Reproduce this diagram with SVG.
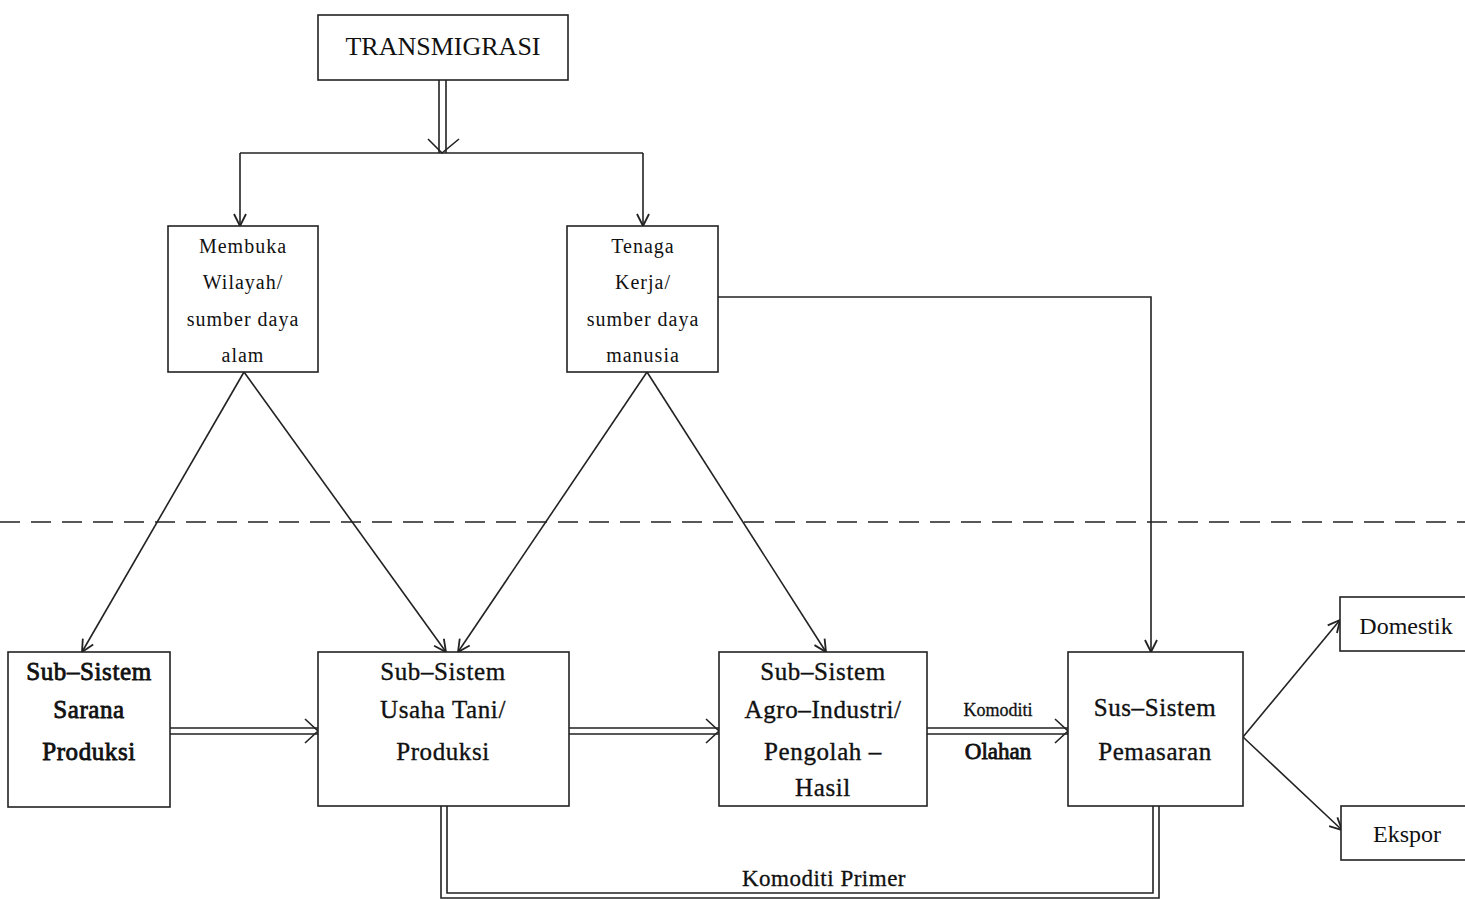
<svg xmlns="http://www.w3.org/2000/svg" width="1465" height="899" viewBox="0 0 1465 899">
<style>
.box{fill:#fff;stroke:#222;stroke-width:1.6}
.ln{fill:none;stroke:#222;stroke-width:1.6}
.t{font-family:"Liberation Serif","Times New Roman",serif;fill:#111;text-anchor:middle}
.s20{font-size:20px;letter-spacing:1px}
.s25{font-size:25px;letter-spacing:0.6px;stroke:#111;stroke-width:0.35}
.hv{stroke:#111;stroke-width:0.8}
</style>
<defs>
<marker id="ah" viewBox="0 0 14 14" refX="13" refY="7" markerWidth="14" markerHeight="14" markerUnits="userSpaceOnUse" orient="auto">
<path d="M1,1 L13,7 L1,13" fill="none" stroke="#222" stroke-width="1.8"/>
</marker>
</defs>
<rect width="1465" height="899" fill="#fff"/>

<g id="connectors">
<path class="ln" d="M439,80 V153 M446,80 V153"/>
<path class="ln" d="M428,139 L442,153 L459,139"/>
<path class="ln" d="M240,153 H643"/>
<path class="ln" d="M240,153 V226" marker-end="url(#ah)"/>
<path class="ln" d="M643,153 V226" marker-end="url(#ah)"/>
<path class="ln" d="M718,297 H1151 V652" marker-end="url(#ah)"/>
<path class="ln" d="M244,372 L82,652" marker-end="url(#ah)"/>
<path class="ln" d="M244,372 L446,652" marker-end="url(#ah)"/>
<path class="ln" d="M647,372 L458,652" marker-end="url(#ah)"/>
<path class="ln" d="M647,372 L826,652" marker-end="url(#ah)"/>
<path class="ln" d="M0,522 H1465" stroke-dasharray="20,11"/>
<path class="ln" d="M170,728 H318 M170,734 H318"/>
<path class="ln" d="M305,719 L318,731 L305,743"/>
<path class="ln" d="M569,728 H719 M569,734 H719"/>
<path class="ln" d="M706,719 L719,731 L706,743"/>
<path class="ln" d="M927,728 H1068 M927,734 H1068"/>
<path class="ln" d="M1055,719 L1068,731 L1055,743"/>
<path class="ln" d="M1243,737 L1340,620" marker-end="url(#ah)"/>
<path class="ln" d="M1243,737 L1342,830" marker-end="url(#ah)"/>
<path class="ln" d="M447,806 V893 H1153 V806"/>
<path class="ln" d="M441,806 V898 H1159 V806"/>
</g>

<g id="transmigrasi">
<rect class="box" x="318" y="15" width="250" height="65"/>
<text class="t" x="443" y="55" font-size="26">TRANSMIGRASI</text>
</g>

<g id="membuka">
<rect class="box" x="168" y="226" width="150" height="146"/>
<text class="t s20" x="243" y="253">Membuka</text>
<text class="t s20" x="243" y="289">Wilayah/</text>
<text class="t s20" x="243" y="326">sumber daya</text>
<text class="t s20" x="243" y="362">alam</text>
</g>

<g id="tenaga">
<rect class="box" x="567" y="226" width="151" height="146"/>
<text class="t s20" x="643" y="253">Tenaga</text>
<text class="t s20" x="643" y="289">Kerja/</text>
<text class="t s20" x="643" y="326">sumber daya</text>
<text class="t s20" x="643" y="362">manusia</text>
</g>

<g id="sarana">
<rect class="box" x="8" y="652" width="162" height="155"/>
<text class="t s25 hv" x="89" y="680">Sub–Sistem</text>
<text class="t s25 hv" x="89" y="718">Sarana</text>
<text class="t s25 hv" x="89" y="760">Produksi</text>
</g>

<g id="usahatani">
<rect class="box" x="318" y="652" width="251" height="154"/>
<text class="t s25" x="443" y="680">Sub–Sistem</text>
<text class="t s25" x="443" y="718">Usaha Tani/</text>
<text class="t s25" x="443" y="760">Produksi</text>
</g>

<g id="agroindustri">
<rect class="box" x="719" y="652" width="208" height="154"/>
<text class="t s25" x="823" y="680">Sub–Sistem</text>
<text class="t s25" x="823" y="718">Agro–Industri/</text>
<text class="t s25" x="823" y="760">Pengolah –</text>
<text class="t s25" x="823" y="796">Hasil</text>
</g>

<g id="pemasaran">
<rect class="box" x="1068" y="652" width="175" height="154"/>
<text class="t s25" x="1155" y="716">Sus–Sistem</text>
<text class="t s25" x="1155" y="760">Pemasaran</text>
</g>

<g id="domestik">
<rect class="box" x="1340" y="597" width="135" height="54"/>
<text class="t" x="1406" y="634" font-size="24">Domestik</text>
</g>

<g id="ekspor">
<rect class="box" x="1341" y="806" width="130" height="54"/>
<text class="t" x="1407" y="842" font-size="24">Ekspor</text>
</g>

<g id="labels">
<text class="t" x="998" y="716" font-size="18" stroke="#111" stroke-width="0.3">Komoditi</text>
<text class="t hv" x="998" y="759" font-size="23">Olahan</text>
<text class="t" x="824" y="886" font-size="23" letter-spacing="0.5" stroke="#111" stroke-width="0.3">Komoditi Primer</text>
</g>
</svg>
